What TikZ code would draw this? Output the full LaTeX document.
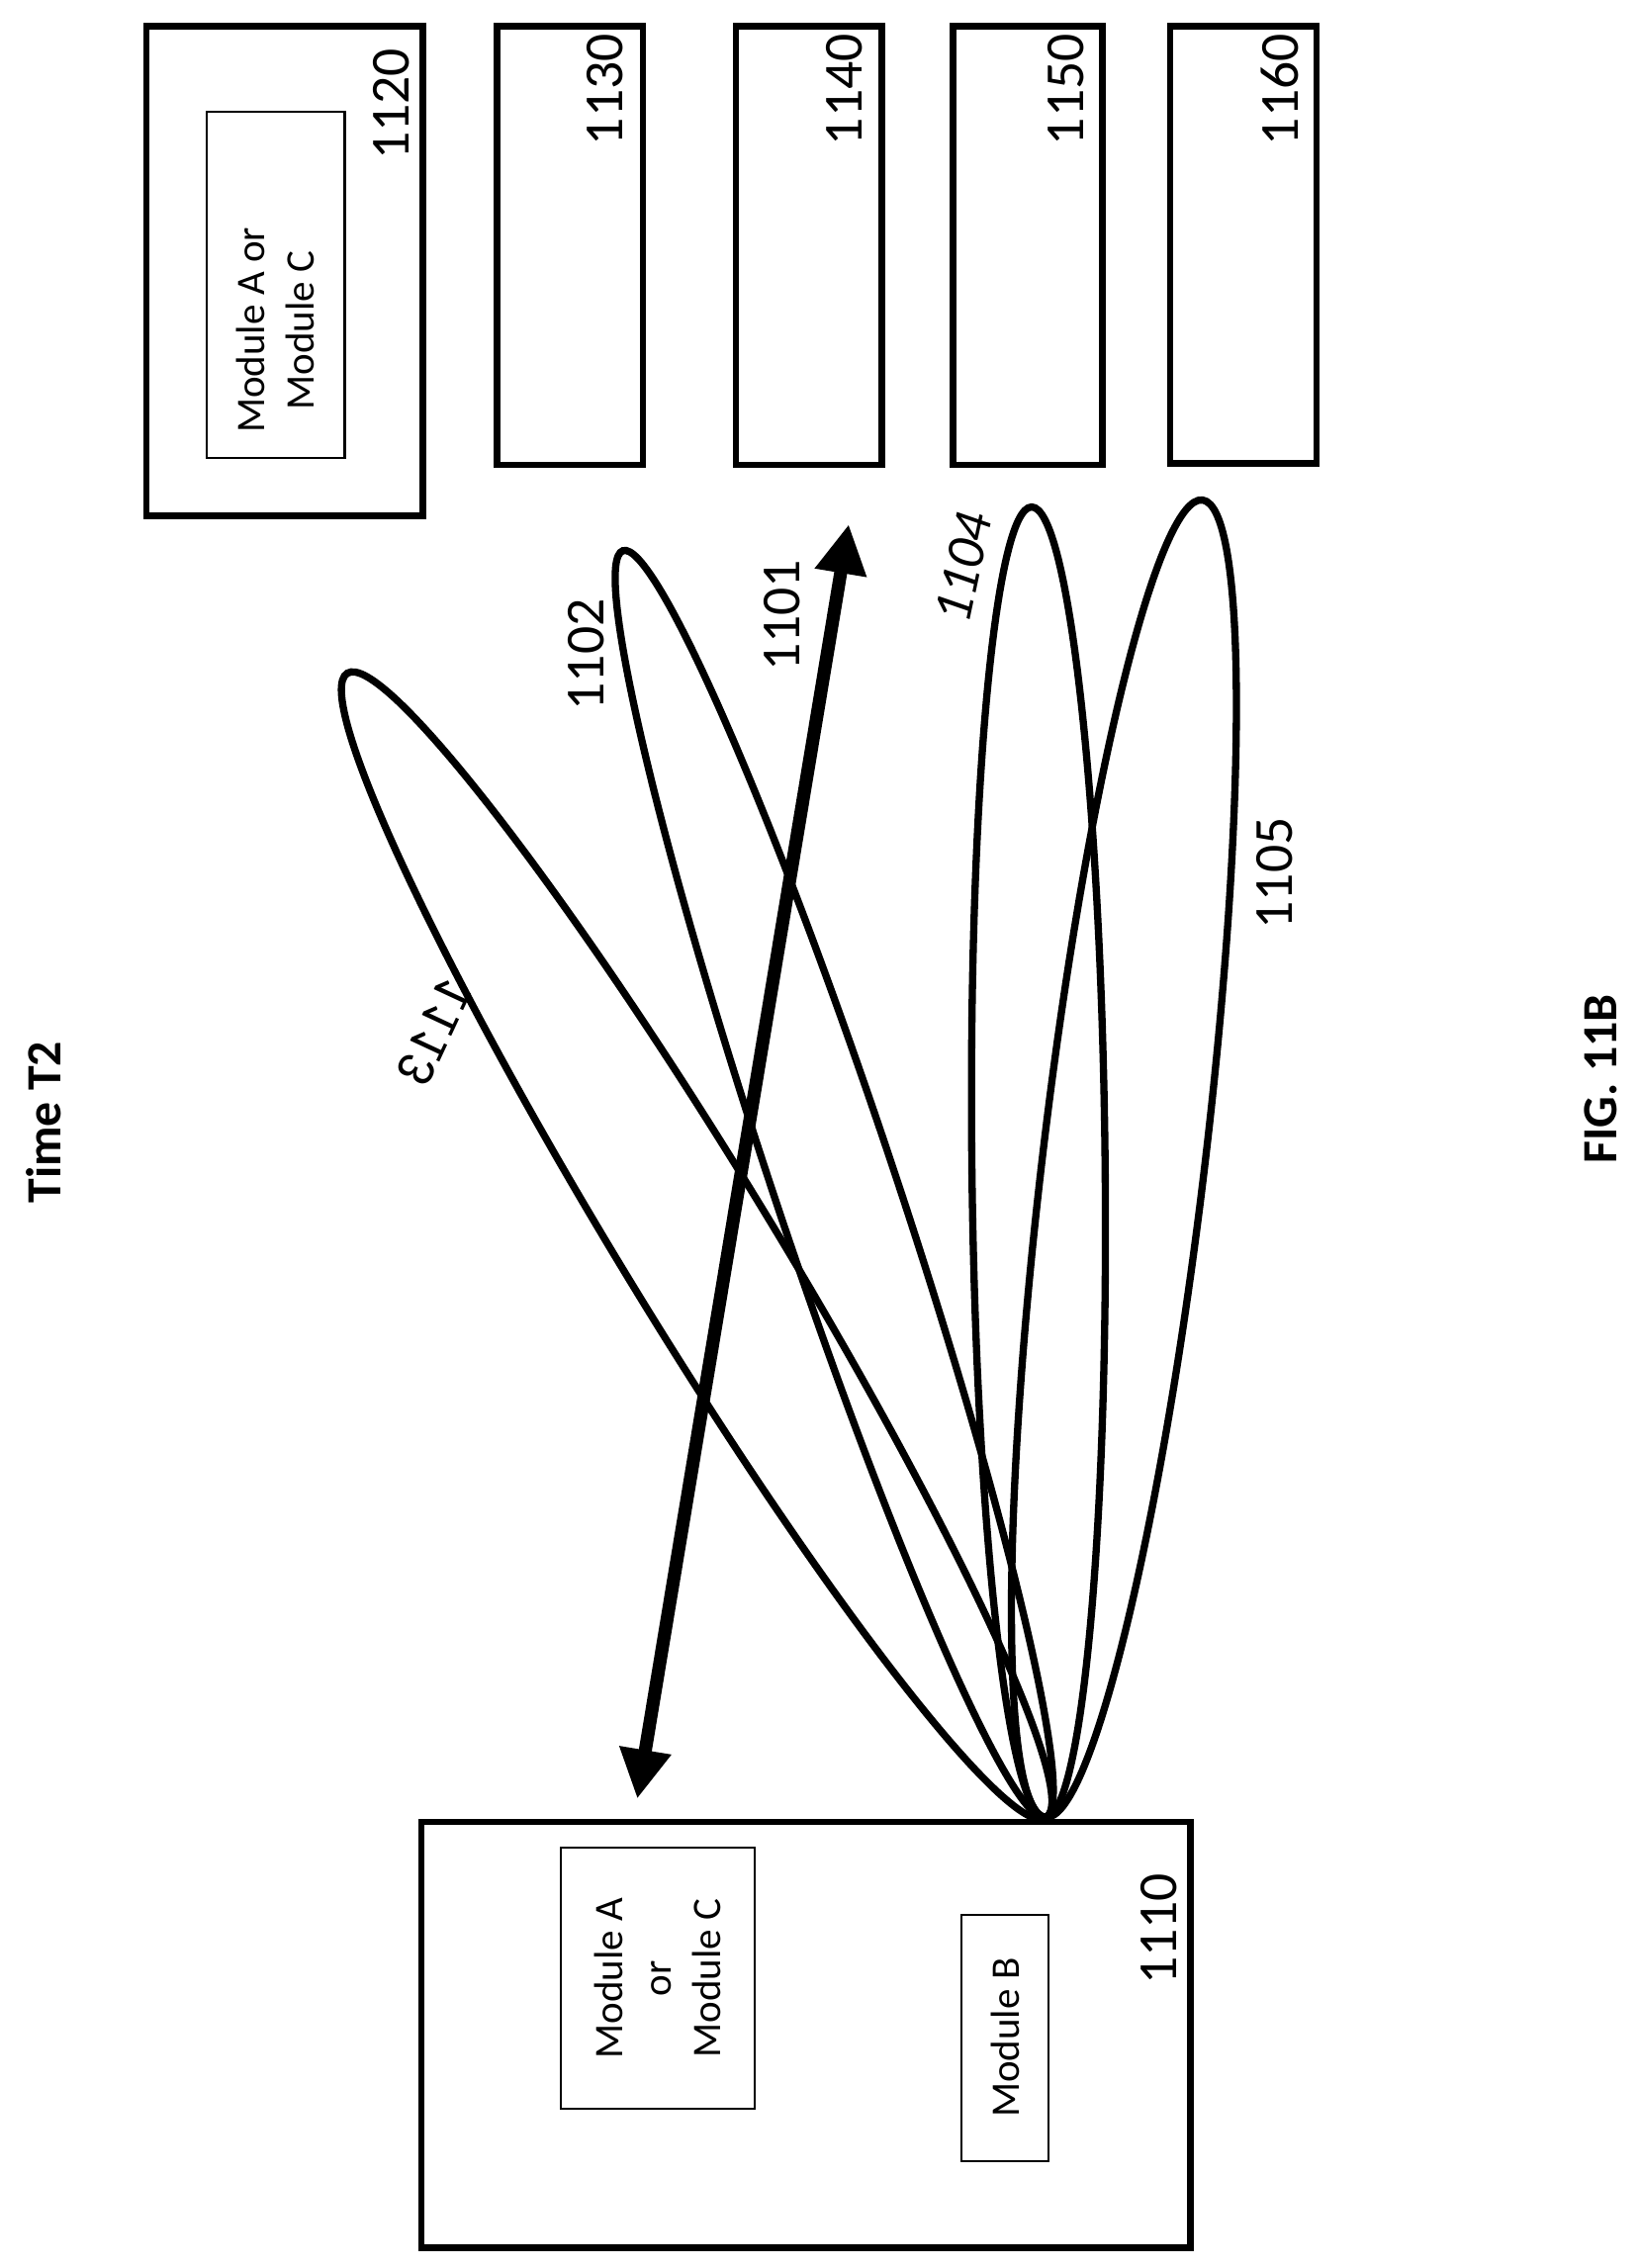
\documentclass[tikz,border=0pt]{standalone}
\usepackage{fontspec}
\setmainfont{Carlito}
\usetikzlibrary{arrows.meta}
\begin{document}
\begin{tikzpicture}[x=1pt,y=1pt,
  box/.style={draw,line width=4.5pt},
  inner/.style={draw,line width=1.5pt},
  lfont/.style={font=\fontsize{38}{44}\selectfont},
  lab/.style={rotate=90,lfont},
  mod/.style={rotate=90,font=\fontsize{28}{34}\selectfont,align=center},
  beam/.style={line width=5pt}]
\useasboundingbox (0,0) rectangle (1131,-1566);
\node[rotate=90,font=\bfseries\fontsize{34}{40}\selectfont] (t) at (30,-775) {Time T2};
\node[rotate=90,font=\bfseries\fontsize{34}{40}\selectfont] (f) at (1105,-745) {FIG. 11B};
% top boxes
\draw[box] (101,-18) rectangle (292,-356);
\draw[inner] (143,-77) rectangle (238,-316);
\node[mod] (m1) at (190,-228) {Module A or\\Module C};
\node[lab] (l1120) at (270,-72) {1120};
\draw[box] (343,-18) rectangle (444,-321); \node[lab] (l1130) at (418,-62) {1130};
\draw[box] (508,-18) rectangle (609,-321); \node[lab] (l1140) at (583,-62) {1140};
\draw[box] (658,-18) rectangle (761,-321); \node[lab] (l1150) at (736,-62) {1150};
\draw[box] (808,-18) rectangle (909,-320); \node[lab] (l1160) at (884,-62) {1160};
% bottom box
\draw[box] (291,-1258) rectangle (822,-1552);
\draw[inner] (387,-1276) rectangle (521,-1456);
\node[mod] (ma) at (454,-1366) {Module A\\or\\Module C};
\draw[inner] (664,-1322) rectangle (724,-1492);
\node[mod] (mb) at (694,-1407) {Module B};
\node[lab] (l1110) at (800,-1332) {1110};
% beams
\draw[beam,rotate around={121.4:(481,-860)}] (481,-860) ellipse (463 and 52);
\draw[beam,rotate around={108.45:(576,-817.5)}] (576,-817.5) ellipse (461 and 42);
\draw[beam,rotate around={90.6:(717,-802.5)}] (717,-802.5) ellipse (452.5 and 46);
\draw[beam,rotate around={83.2:(776,-800)}] (776,-800) ellipse (458 and 56);
\coordinate (a1) at (440,-1242);
\coordinate (a2) at (586,-362);
\draw[line width=9pt,{Triangle[length=34pt,width=34pt]}-{Triangle[length=34pt,width=34pt]}] (a1) -- (a2);
\node[lab] (l1101) at (540,-425) {1101};
\node[lab] (l1102) at (405,-452) {1102};
\node[rotate=78,font=\itshape\fontsize{38}{44}\selectfont] (l1104) at (665,-392) {1104};
\node[lab] (l1105) at (880,-603) {1105};
\node[lfont,xscale=-1,rotate=-65] (l1113) at (300,-712) {1113};
\end{tikzpicture}
\end{document}
